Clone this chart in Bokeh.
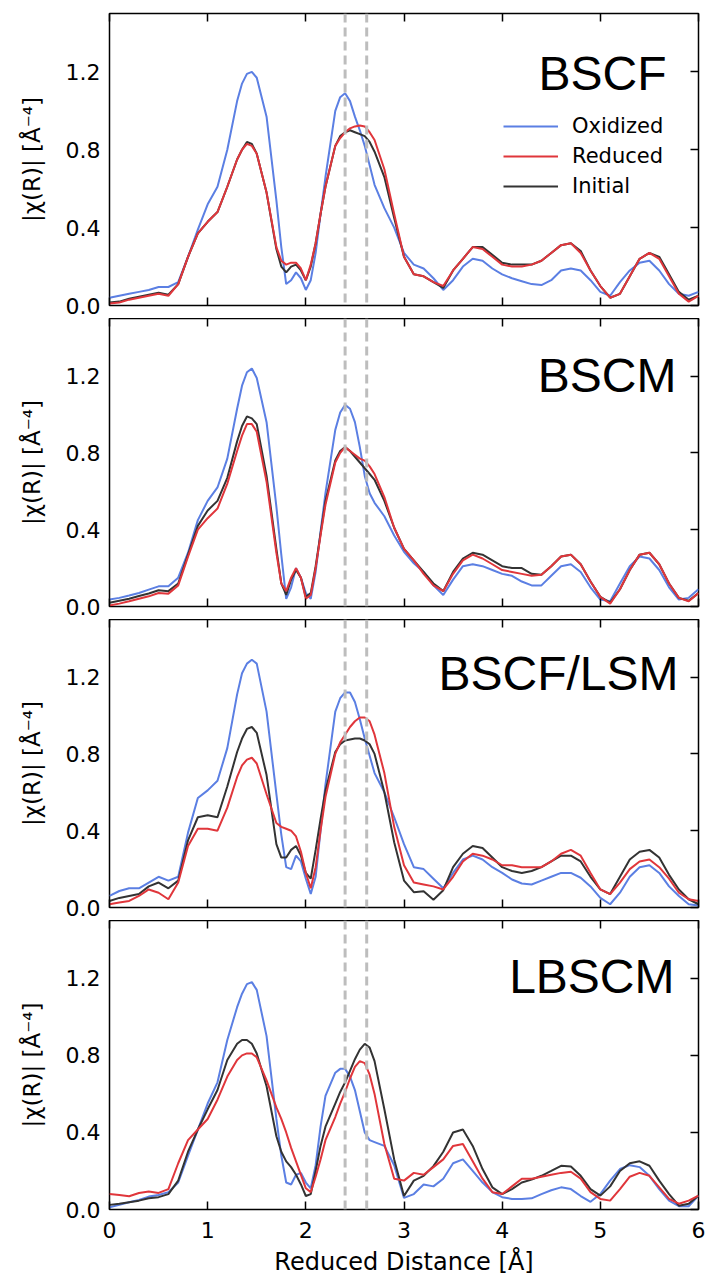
from bokeh.plotting import figure
from bokeh.models import (Span, Label, Legend, LegendItem, LinearAxis, FixedTicker,
                          PrintfTickFormatter, Range1d)
from bokeh.layouts import column
from bokeh.embed import file_html
from bokeh.resources import INLINE

# ---------------- data ----------------
R = [0.0, 0.1, 0.2, 0.3, 0.4, 0.5, 0.6, 0.7, 0.8, 0.9, 1.0, 1.1, 1.2, 1.3, 1.4, 1.5, 1.6, 1.7,
     1.75, 1.8, 1.85, 1.9, 1.95, 2.0, 2.05, 2.1, 2.15, 2.2,
     2.3, 2.4, 2.5, 2.6, 2.7, 2.8, 2.9, 3.0, 3.1, 3.2, 3.3, 3.4, 3.5, 3.6, 3.7, 3.8, 3.9,
     4.0, 4.1, 4.2, 4.3, 4.4, 4.5, 4.6, 4.7, 4.8, 4.9, 5.0, 5.1, 5.2, 5.3, 5.4, 5.5, 5.6,
     5.7, 5.8, 5.9, 6.0]
# extra readings around the main peaks
R_PEAK = [1.35, 1.45, 2.35, 2.45, 2.55, 2.65]

BSCF_OX = [0.04, 0.05, 0.06, 0.07, 0.08, 0.095, 0.095, 0.12, 0.25, 0.39, 0.52, 0.61, 0.80, 1.05, 1.19, 1.17, 0.97, 0.54,
           0.30, 0.11, 0.13, 0.17, 0.14, 0.08, 0.13, 0.27, 0.47, 0.66,
           1.00, 1.09, 0.97, 0.82, 0.62, 0.50, 0.40, 0.27, 0.21, 0.19, 0.14, 0.08, 0.13, 0.20, 0.24, 0.23, 0.19,
           0.16, 0.14, 0.125, 0.11, 0.105, 0.13, 0.18, 0.19, 0.18, 0.13, 0.07, 0.05, 0.12, 0.18, 0.22, 0.23, 0.18,
           0.11, 0.06, 0.05, 0.07]
BSCF_OX_PK = [1.14, 1.20, 1.07, 1.05, 0.90, 0.72]
BSCF_RED = [0.01, 0.015, 0.03, 0.04, 0.05, 0.06, 0.05, 0.11, 0.25, 0.37, 0.43, 0.48, 0.61, 0.75, 0.83, 0.78, 0.58, 0.30,
            0.23, 0.21, 0.22, 0.22, 0.19, 0.13, 0.21, 0.32, 0.47, 0.61,
            0.82, 0.89, 0.92, 0.92, 0.85, 0.70, 0.47, 0.25, 0.16, 0.15, 0.12, 0.10, 0.18, 0.24, 0.30, 0.29, 0.25,
            0.21, 0.20, 0.20, 0.21, 0.23, 0.27, 0.31, 0.32, 0.27, 0.18, 0.10, 0.04, 0.06, 0.15, 0.24, 0.27, 0.24,
            0.15, 0.06, 0.02, 0.05]
BSCF_RED_PK = [0.80, 0.82, 0.86, 0.91, 0.925, 0.89]
BSCF_INI = [0.015, 0.02, 0.035, 0.045, 0.055, 0.065, 0.055, 0.11, 0.25, 0.37, 0.43, 0.48, 0.61, 0.75, 0.84, 0.78, 0.58, 0.29,
            0.20, 0.17, 0.20, 0.21, 0.18, 0.13, 0.20, 0.32, 0.47, 0.61,
            0.82, 0.89, 0.89, 0.87, 0.79, 0.66, 0.45, 0.25, 0.16, 0.15, 0.12, 0.09, 0.18, 0.24, 0.30, 0.30, 0.26,
            0.22, 0.21, 0.21, 0.21, 0.23, 0.27, 0.31, 0.32, 0.28, 0.18, 0.10, 0.04, 0.06, 0.15, 0.24, 0.27, 0.25,
            0.16, 0.07, 0.03, 0.05]
BSCF_INI_PK = [0.80, 0.83, 0.87, 0.90, 0.88, 0.84]

BSCM_OX = [0.036, 0.045, 0.057, 0.07, 0.088, 0.105, 0.105, 0.15, 0.28, 0.45, 0.55, 0.62, 0.77, 1.03, 1.22, 1.19, 0.96, 0.52,
           0.27, 0.04, 0.10, 0.20, 0.15, 0.07, 0.04, 0.18, 0.39, 0.59,
           0.92, 1.05, 0.96, 0.68, 0.54, 0.47, 0.37, 0.285, 0.225, 0.18, 0.11, 0.06, 0.14, 0.21, 0.22, 0.21, 0.19,
           0.17, 0.16, 0.13, 0.11, 0.11, 0.16, 0.21, 0.22, 0.18, 0.10, 0.036, 0.027, 0.12, 0.21, 0.26, 0.25, 0.19,
           0.10, 0.036, 0.045, 0.09]
BSCM_OX_PK = [1.15, 1.24, 1.01, 1.03, 0.83, 0.59]
BSCM_RED = [0.005, 0.015, 0.027, 0.04, 0.053, 0.07, 0.067, 0.11, 0.26, 0.40, 0.46, 0.51, 0.64, 0.81, 0.95, 0.91, 0.65, 0.28,
            0.12, 0.08, 0.15, 0.20, 0.15, 0.04, 0.06, 0.20, 0.37, 0.53,
            0.75, 0.83, 0.79, 0.76, 0.69, 0.57, 0.41, 0.30, 0.24, 0.17, 0.11, 0.08, 0.17, 0.24, 0.27, 0.25, 0.22,
            0.19, 0.18, 0.17, 0.16, 0.165, 0.21, 0.26, 0.27, 0.22, 0.13, 0.05, 0.015, 0.09, 0.19, 0.27, 0.28, 0.22,
            0.12, 0.045, 0.027, 0.07]
BSCM_RED_PK = [0.89, 0.95, 0.80, 0.81, 0.77, 0.73]
BSCM_INI = [0.02, 0.03, 0.04, 0.055, 0.068, 0.085, 0.08, 0.12, 0.27, 0.42, 0.50, 0.55, 0.67, 0.86, 0.99, 0.95, 0.68, 0.30,
            0.12, 0.06, 0.14, 0.19, 0.15, 0.05, 0.07, 0.21, 0.38, 0.55,
            0.76, 0.83, 0.78, 0.72, 0.66, 0.55, 0.41, 0.30, 0.24, 0.18, 0.12, 0.08, 0.18, 0.25, 0.28, 0.27, 0.24,
            0.21, 0.20, 0.20, 0.17, 0.165, 0.21, 0.26, 0.27, 0.22, 0.13, 0.05, 0.02, 0.09, 0.19, 0.27, 0.28, 0.22,
            0.12, 0.045, 0.03, 0.07]
BSCM_INI_PK = [0.94, 0.98, 0.81, 0.81, 0.75, 0.69]

LSM_OX = [0.06, 0.086, 0.10, 0.10, 0.13, 0.16, 0.14, 0.16, 0.39, 0.57, 0.61, 0.66, 0.83, 1.11, 1.27, 1.27, 1.02, 0.59,
          0.38, 0.21, 0.20, 0.27, 0.24, 0.15, 0.07, 0.16, 0.40, 0.64,
          1.02, 1.12, 1.07, 0.88, 0.70, 0.60, 0.47, 0.33, 0.21, 0.20, 0.15, 0.10, 0.18, 0.25, 0.27, 0.25, 0.21,
          0.18, 0.146, 0.125, 0.12, 0.14, 0.16, 0.18, 0.18, 0.155, 0.11, 0.05, 0.017, 0.077, 0.16, 0.21, 0.22, 0.18,
          0.11, 0.06, 0.017, 0.01]
LSM_OX_PK = [1.22, 1.29, 1.09, 1.12, 0.98, 0.79]
LSM_RED = [0.017, 0.026, 0.034, 0.06, 0.094, 0.077, 0.043, 0.13, 0.32, 0.41, 0.41, 0.40, 0.52, 0.68, 0.77, 0.75, 0.59, 0.44,
           0.42, 0.41, 0.40, 0.37, 0.29, 0.18, 0.10, 0.21, 0.40, 0.575,
           0.80, 0.90, 0.97, 0.99, 0.90, 0.70, 0.42, 0.22, 0.13, 0.12, 0.11, 0.094, 0.16, 0.24, 0.28, 0.27, 0.25,
           0.22, 0.22, 0.21, 0.21, 0.21, 0.24, 0.28, 0.30, 0.27, 0.18, 0.094, 0.07, 0.13, 0.20, 0.24, 0.25, 0.21,
           0.15, 0.077, 0.043, 0.034]
LSM_RED_PK = [0.74, 0.78, 0.86, 0.94, 0.99, 0.97]
LSM_INI = [0.034, 0.05, 0.06, 0.07, 0.11, 0.13, 0.10, 0.14, 0.35, 0.47, 0.48, 0.47, 0.63, 0.81, 0.93, 0.91, 0.69, 0.33,
           0.26, 0.26, 0.30, 0.32, 0.27, 0.18, 0.15, 0.30, 0.46, 0.61,
           0.81, 0.87, 0.88, 0.87, 0.80, 0.60, 0.34, 0.14, 0.08, 0.085, 0.04, 0.09, 0.21, 0.28, 0.32, 0.31, 0.26,
           0.21, 0.19, 0.18, 0.19, 0.21, 0.24, 0.27, 0.27, 0.24, 0.16, 0.094, 0.07, 0.16, 0.25, 0.29, 0.30, 0.26,
           0.17, 0.094, 0.043, 0.017]
LSM_INI_PK = [0.88, 0.94, 0.85, 0.875, 0.88, 0.85]

LBSCM_OX = [0.012, 0.024, 0.038, 0.05, 0.067, 0.075, 0.09, 0.14, 0.28, 0.415, 0.55, 0.66, 0.88, 1.05, 1.17, 1.14, 0.90, 0.47,
            0.28, 0.14, 0.13, 0.18, 0.19, 0.14, 0.11, 0.23, 0.43, 0.59,
            0.71, 0.73, 0.62, 0.40, 0.35, 0.33, 0.23, 0.06, 0.08, 0.13, 0.12, 0.16, 0.24, 0.26, 0.20, 0.14, 0.09,
            0.064, 0.055, 0.055, 0.058, 0.08, 0.10, 0.115, 0.106, 0.07, 0.04, 0.08, 0.15, 0.21, 0.23, 0.22, 0.175, 0.106,
            0.046, 0.017, 0.017, 0.072]
LBSCM_OX_PK = [1.12, 1.18, 0.73, 0.69, 0.51, 0.36]
LBSCM_RED = [0.08, 0.075, 0.069, 0.086, 0.093, 0.086, 0.106, 0.24, 0.36, 0.415, 0.47, 0.57, 0.69, 0.776, 0.81, 0.79, 0.67, 0.53,
             0.47, 0.40, 0.32, 0.25, 0.18, 0.11, 0.09, 0.17, 0.26, 0.36,
             0.48, 0.61, 0.74, 0.76, 0.60, 0.34, 0.16, 0.15, 0.19, 0.18, 0.22, 0.26, 0.33, 0.34, 0.25, 0.16, 0.09,
             0.08, 0.12, 0.16, 0.16, 0.17, 0.18, 0.19, 0.196, 0.16, 0.09, 0.055, 0.046, 0.106, 0.17, 0.19, 0.175, 0.115,
             0.055, 0.03, 0.046, 0.072]
LBSCM_RED_PK = [0.80, 0.81, 0.55, 0.68, 0.77, 0.70]
LBSCM_INI = [0.024, 0.03, 0.038, 0.046, 0.058, 0.064, 0.08, 0.15, 0.30, 0.415, 0.52, 0.62, 0.776, 0.86, 0.88, 0.81, 0.64, 0.38,
             0.30, 0.25, 0.22, 0.18, 0.13, 0.07, 0.08, 0.20, 0.33, 0.43,
             0.55, 0.66, 0.78, 0.86, 0.77, 0.52, 0.26, 0.07, 0.15, 0.175, 0.225, 0.30, 0.40, 0.415, 0.33, 0.21, 0.115,
             0.08, 0.106, 0.14, 0.155, 0.175, 0.20, 0.227, 0.223, 0.175, 0.106, 0.072, 0.12, 0.20, 0.24, 0.25, 0.227, 0.15,
             0.08, 0.02, 0.03, 0.072]
LBSCM_INI_PK = [0.88, 0.86, 0.61, 0.72, 0.83, 0.84]

SAMPLES = ["BSCF", "BSCM", "BSCF/LSM", "LBSCM"]
SERIES = ["Oxidized", "Reduced", "Initial"]
PANEL_DATA = [
    ((BSCF_OX, BSCF_OX_PK), (BSCF_RED, BSCF_RED_PK), (BSCF_INI, BSCF_INI_PK)),
    ((BSCM_OX, BSCM_OX_PK), (BSCM_RED, BSCM_RED_PK), (BSCM_INI, BSCM_INI_PK)),
    ((LSM_OX, LSM_OX_PK), (LSM_RED, LSM_RED_PK), (LSM_INI, LSM_INI_PK)),
    ((LBSCM_OX, LBSCM_OX_PK), (LBSCM_RED, LBSCM_RED_PK), (LBSCM_INI, LBSCM_INI_PK)),
]
MARKERS = [2.4, 2.62]          # dashed reference lines
X_TICKS = [0, 1, 2, 3, 4, 5, 6]
Y_TICKS = [0.0, 0.4, 0.8, 1.2]
X_LABEL = "Reduced Distance [Å]"
Y_LABEL = "|χ(R)| [Å⁻⁴]"

# ---------------- style ----------------
COLORS = {"Oxidized": "#5b7fe3", "Reduced": "#e0363b", "Initial": "#333333"}
DRAW_ORDER = ["Oxidized", "Initial", "Reduced"]
FONT = "DejaVu Sans"
TITLE_FONT = "Liberation Sans"
W = 708
LEFT, RIGHT = 109, 10

# figure heights / borders (top, bottom)
PANEL_GEOM = [(318, 13, 13), (301, 0, 13), (301, 0, 13), (358, 0, 67)]
TITLE_POS = [(557, 232), (567, 231), (569, 234), (565, 233)]


def merged(main, extra):
    pts = sorted(zip(R + R_PEAK, main + extra))
    return [p[0] for p in pts], [p[1] for p in pts]


def hide_labels(ax):
    ax.major_label_text_font_size = "0px"
    ax.major_label_text_color = None
    ax.major_label_standoff = 0


def make_panel(i):
    h, top, bottom = PANEL_GEOM[i]
    last = i == len(SAMPLES) - 1
    p = figure(width=W, height=h, x_range=Range1d(0, 6), y_range=Range1d(0, 1.5),
               output_backend="svg", toolbar_location=None,
               min_border_left=LEFT, min_border_right=RIGHT,
               min_border_top=top, min_border_bottom=bottom)
    p.grid.visible = False
    p.outline_line_color = "black"
    p.outline_line_width = 1.5
    p.background_fill_color = "white"
    p.border_fill_color = None

    for m in MARKERS:
        p.add_layout(Span(location=m, dimension="height", line_color="#bdbdbd",
                          line_width=3, line_dash="9 5"))

    renderers = {}
    vals = dict(zip(SERIES, PANEL_DATA[i]))
    for s in DRAW_ORDER:
        xs, ys = merged(*vals[s])
        renderers[s] = p.line(xs, ys, line_color=COLORS[s], line_width=2)

    # left axis
    ya = p.yaxis[0]
    ya.ticker = FixedTicker(ticks=Y_TICKS)
    ya.formatter = PrintfTickFormatter(format="%.1f")
    ya.major_tick_in = 0
    ya.major_tick_out = 0
    ya.minor_tick_in = 0
    ya.minor_tick_out = 0
    ya.axis_line_color = None
    ya.major_label_text_font = FONT
    ya.major_label_text_font_size = "22px"
    ya.major_label_text_color = "black"
    ya.major_label_standoff = 9
    ya.axis_label = Y_LABEL
    ya.axis_label_text_font = FONT
    ya.axis_label_text_font_size = "23px"
    ya.axis_label_text_font_style = "normal"
    ya.axis_label_text_color = "black"
    ya.axis_label_standoff = 18

    # bottom axis
    xa = p.xaxis[0]
    xa.ticker = FixedTicker(ticks=X_TICKS)
    xa.major_tick_in = 8
    xa.major_tick_out = 0
    xa.minor_tick_in = 0
    xa.minor_tick_out = 0
    xa.major_tick_line_width = 1.5
    xa.axis_line_color = None
    if last:
        xa.major_label_text_font = FONT
        xa.major_label_text_font_size = "22px"
        xa.major_label_text_color = "black"
        xa.major_label_standoff = 12
        xa.axis_label = X_LABEL
        xa.axis_label_text_font = FONT
        xa.axis_label_text_font_size = "24px"
        xa.axis_label_text_font_style = "normal"
        xa.axis_label_text_color = "black"
        xa.axis_label_standoff = 7
    else:
        hide_labels(xa)

    # mirrored top / right ticks
    top_ax = LinearAxis(ticker=FixedTicker(ticks=X_TICKS), major_tick_in=8, major_tick_out=0,
                        minor_tick_in=0, minor_tick_out=0, major_tick_line_width=1.5,
                        axis_line_color=None)
    hide_labels(top_ax)
    p.add_layout(top_ax, "above")
    right_ax = LinearAxis(ticker=FixedTicker(ticks=Y_TICKS), major_tick_in=8, major_tick_out=0,
                          minor_tick_in=0, minor_tick_out=0, major_tick_line_width=1.5,
                          axis_line_color=None)
    hide_labels(right_ax)
    p.add_layout(right_ax, "right")

    tx, ty = TITLE_POS[i]
    p.add_layout(Label(x=tx, y=ty, x_units="screen", y_units="screen", text=SAMPLES[i],
                       text_align="right", text_baseline="alphabetic",
                       text_font=TITLE_FONT, text_font_size="48px", text_color="black"))

    if i == 0:
        leg = Legend(items=[LegendItem(label=s, renderers=[renderers[s]]) for s in SERIES],
                     location=(394, 107), padding=0, margin=0, spacing=6,
                     glyph_width=55, glyph_height=24, label_height=24, label_standoff=14,
                     label_text_font=FONT, label_text_font_size="21px",
                     label_text_color="black",
                     border_line_color=None, background_fill_alpha=0)
        p.add_layout(leg)
    return p


layout = column([make_panel(i) for i in range(len(SAMPLES))], spacing=0)
open("out.html", "w").write(file_html(layout, INLINE))
